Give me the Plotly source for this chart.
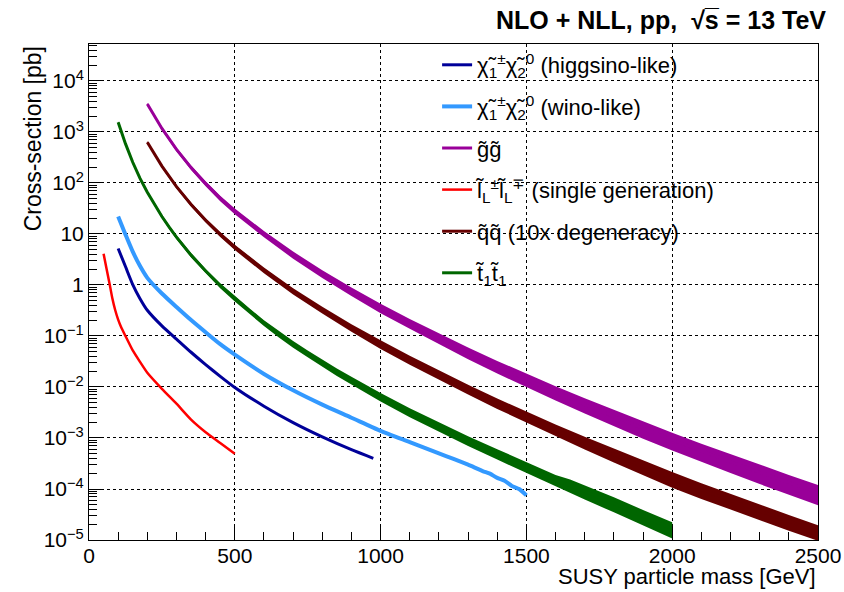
import plotly.graph_objects as go

# ---------------- data ----------------
higgsino_mass = [100, 125, 150, 175, 200, 250, 300, 350, 400, 450, 500, 600, 700, 800, 900, 975]
higgsino_xsec = [5.2, 2.3, 1.02, 0.54, 0.32, 0.158, 0.087, 0.048, 0.0275, 0.0162, 0.0098, 0.0042, 0.0020,
                 0.00105, 0.00059, 0.00040]

wino_mass = [100, 125, 150, 175, 200, 250, 300, 350, 400, 450, 500, 600, 700, 800, 900, 1000, 1100, 1200,
             1250, 1300, 1350, 1375, 1400, 1425, 1450, 1475, 1500]
wino_xsec = [22, 9.8, 4.5, 2.35, 1.38, 0.68, 0.37, 0.205, 0.118, 0.069, 0.043, 0.0180, 0.0086, 0.0045, 0.0025,
             0.00138, 0.00083, 0.00050, 0.00039, 0.00030, 0.000225, 0.00020, 0.000165, 0.000145, 0.000115,
             0.000100, 0.000075]

gluino_mass = [200, 250, 300, 350, 400, 450, 500, 600, 700, 800, 900, 1000, 1100, 1200, 1300, 1400, 1500,
               1600, 1700, 1800, 1900, 2000, 2100, 2200, 2300, 2400, 2500]
gluino_xsec = [3550, 1175, 457, 200, 97, 50, 28, 10, 3.9, 1.66, 0.75, 0.355, 0.177, 0.090, 0.0473, 0.0254,
               0.0140, 0.00787, 0.00451, 0.00262, 0.00154, 0.00092, 0.000557, 0.000342, 0.000212, 0.000133,
               0.000084]
gluino_unc = [0.06, 0.08, 0.09, 0.10, 0.11, 0.12, 0.13, 0.14, 0.16, 0.17, 0.19, 0.21, 0.22, 0.24, 0.26, 0.28,
              0.30, 0.31, 0.33, 0.35, 0.37, 0.38, 0.39, 0.40, 0.41, 0.42, 0.43]

slepton_mass = [50, 60, 70, 80, 90, 100, 110, 125, 150, 175, 200, 250, 300, 350, 400, 450, 500]
slepton_xsec = [4.1, 2.1, 1.1, 0.55, 0.32, 0.21, 0.15, 0.10, 0.052, 0.031, 0.019, 0.0092, 0.0047, 0.0023,
                0.0013, 0.00080, 0.00049]

squark_mass = [200, 250, 300, 350, 400, 450, 500, 600, 700, 800, 900, 1000, 1100, 1200, 1300, 1400, 1500,
               1600, 1700, 1800, 1900, 2000, 2100, 2200, 2300, 2400, 2500]
squark_xsec = [631, 214, 85, 38, 18.6, 9.8, 5.5, 1.95, 0.76, 0.324, 0.146, 0.069, 0.0343, 0.01746, 0.0091,
               0.00483, 0.00262, 0.001455, 0.000822, 0.000471, 0.000273, 0.00016, 9.7e-5, 5.94e-5, 3.69e-5,
               2.31e-5, 1.46e-5]
squark_unc = [0.06, 0.07, 0.08, 0.09, 0.10, 0.11, 0.12, 0.13, 0.14, 0.15, 0.17, 0.19, 0.20, 0.21, 0.22, 0.23,
              0.24, 0.26, 0.28, 0.30, 0.32, 0.34, 0.34, 0.34, 0.34, 0.34, 0.34]

stop_mass = [100, 125, 150, 175, 200, 225, 250, 275, 300, 350, 400, 450, 500, 550, 600, 650, 700, 750, 800,
             850, 900, 950, 1000, 1100, 1200, 1300, 1400, 1500, 1600, 1650, 1700, 1800, 1900, 2000]
stop_xsec = [1550, 590, 255, 123, 66, 37, 22, 13.6, 8.7, 3.85, 1.88, 0.97, 0.54, 0.31, 0.18, 0.11, 0.069,
             0.045, 0.0295, 0.0198, 0.0135, 0.0093, 0.0064, 0.0032, 0.00167, 0.00089, 0.00049, 0.00027,
             0.000150, 0.000118, 9.0e-5, 5.2e-5, 2.9e-5, 1.65e-5]
stop_unc = [0.05, 0.05, 0.06, 0.06, 0.07, 0.07, 0.08, 0.08, 0.09, 0.10, 0.10, 0.11, 0.12, 0.13, 0.13, 0.14,
            0.15, 0.15, 0.16, 0.17, 0.17, 0.18, 0.19, 0.20, 0.21, 0.22, 0.23, 0.24, 0.26, 0.30, 0.31, 0.33,
            0.34, 0.35]

y_tickvals = [1e-5, 1e-4, 1e-3, 1e-2, 1e-1, 1, 10, 1e2, 1e3, 1e4]
y_ticktext = ["10<sup>\u22125</sup>", "10<sup>\u22124</sup>", "10<sup>\u22123</sup>", "10<sup>\u22122</sup>",
              "10<sup>\u22121</sup>", "1", "10", "10<sup>2</sup>", "10<sup>3</sup>", "10<sup>4</sup>"]
x_tickvals = [0, 500, 1000, 1500, 2000, 2500]

# ---------------- figure ----------------
FONT = "Liberation Sans, Arial, Helvetica, sans-serif"

fig = go.Figure()

def add_line(name, mass, xsec, color, width, group, spline=True):
    line = dict(color=color, width=width)
    if spline:
        line.update(shape="spline", smoothing=0.6)
    fig.add_trace(go.Scatter(x=mass, y=xsec, mode="lines", name=name, line=line,
                             legendgroup=group, showlegend=True, hoverinfo="skip"))

def add_band(name, mass, xsec, unc, color, group):
    lo = [v * (1 - u) for v, u in zip(xsec, unc)]
    hi = [v * (1 + u) for v, u in zip(xsec, unc)]
    fig.add_trace(go.Scatter(x=mass, y=lo, mode="lines", line=dict(width=0, color=color),
                             legendgroup=group, showlegend=False, hoverinfo="skip"))
    fig.add_trace(go.Scatter(x=mass, y=hi, mode="lines", line=dict(width=0, color=color),
                             fill="tonexty", fillcolor=color,
                             legendgroup=group, showlegend=False, hoverinfo="skip"))
    add_line(name, mass, xsec, color, 3, group, spline=False)

chi = "\u03c7\u0303"
add_line(chi + "<sub>1</sub><sup>\u00b1</sup>" + chi + "<sub>2</sub><sup>0</sup> (higgsino-like)",
         higgsino_mass, higgsino_xsec, "#000099", 3, "g1")
add_line(chi + "<sub>1</sub><sup>\u00b1</sup>" + chi + "<sub>2</sub><sup>0</sup> (wino-like)",
         wino_mass, wino_xsec, "#3399ff", 4, "g2")
add_band("g\u0303g\u0303", gluino_mass, gluino_xsec, gluino_unc, "#990099", "g3")
add_line("l\u0303<sub>L</sub><sup>\u00b1</sup>l\u0303<sub>L</sub><sup>\u2213</sup> (single generation)",
         slepton_mass, slepton_xsec, "#ff0000", 2.5, "g4")
add_band("q\u0303q\u0303 (10x degeneracy)", squark_mass, squark_xsec, squark_unc, "#660000", "g5")
add_band("t\u0303<sub>1</sub>t\u0303<sub>1</sub>", stop_mass, stop_xsec, stop_unc, "#006600", "g6")

minor_y = [m * 10.0 ** e for e in range(-5, 5) for m in range(2, 10)]

fig.update_layout(
    width=844, height=592,
    margin=dict(l=89, r=26, t=44, b=52, autoexpand=False),
    paper_bgcolor="white", plot_bgcolor="white",
    font=dict(family=FONT, size=21, color="black"),
    showlegend=True,
    legend=dict(x=0.4775, y=1.0, xanchor="left", yanchor="top",
                bgcolor="rgba(0,0,0,0)", font=dict(family=FONT, size=22),
                traceorder="grouped", tracegroupgap=10, itemwidth=30),
    xaxis=dict(range=[0, 2500], tickmode="array", tickvals=x_tickvals, automargin=False,
               ticks="inside", ticklen=14, tickcolor="black", ticklabelstandoff=-3,
               showline=True, linecolor="black", linewidth=1, mirror=True,
               showgrid=True, gridcolor="black", griddash="dot", gridwidth=1,
               zeroline=False, tickfont=dict(family=FONT, size=21),
               minor=dict(dtick=100, tick0=0, ticks="inside", ticklen=8, tickcolor="black", showgrid=False)),
    yaxis=dict(type="log", range=[-5, 4.725], tickmode="array", tickvals=y_tickvals, ticktext=y_ticktext,
               automargin=False,
               ticks="inside", ticklen=14, tickcolor="black",
               showline=True, linecolor="black", linewidth=1, mirror=True,
               showgrid=True, gridcolor="black", griddash="dot", gridwidth=1,
               zeroline=False, tickfont=dict(family=FONT, size=21),
               minor=dict(tickmode="array", tickvals=minor_y, ticks="inside", ticklen=8,
                          tickcolor="black", showgrid=False)),
    annotations=[
        dict(text="<b>NLO + NLL, pp,  \u221as\u0305 = 13 TeV</b>", xref="paper", yref="paper",
             x=1.0137, y=1.048, xanchor="right", yanchor="middle", showarrow=False,
             font=dict(family=FONT, size=25)),
        dict(text="Cross-section [pb]", xref="paper", yref="paper", textangle=-90,
             x=-0.077, y=1.0, xanchor="center", yanchor="top", showarrow=False,
             font=dict(family=FONT, size=23)),
        dict(text="SUSY particle mass [GeV]", xref="paper", yref="paper",
             x=1.0, y=-0.1025, xanchor="right", yanchor="bottom", showarrow=False,
             font=dict(family=FONT, size=22)),
    ],
)

fig.write_html("out.html", config={"displayModeBar": False},
               post_script="document.body.style.margin='0px';")
